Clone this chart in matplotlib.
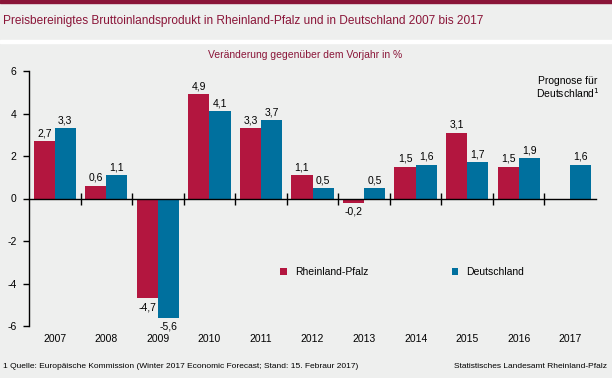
import matplotlib.pyplot as plt
import numpy as np
from matplotlib.patches import Rectangle

plt.rcParams['font.family'] = ['Liberation Sans', 'DejaVu Sans']

# Data
years = ['2007', '2008', '2009', '2010', '2011', '2012', '2013', '2014', '2015', '2016', '2017']
rlp = [2.7, 0.6, -4.7, 4.9, 3.3, 1.1, -0.2, 1.5, 3.1, 1.5, np.nan]
de = [3.3, 1.1, -5.6, 4.1, 3.7, 0.5, 0.5, 1.6, 1.7, 1.9, 1.6]
y_ticks = [-6, -4, -2, 0, 2, 4, 6]

red = '#b3163f'
blue = '#00709e'
maroon = '#8a1538'
bg = '#eeefee'

fig = plt.figure(figsize=(6.12, 3.78), dpi=100)
fig.patch.set_facecolor(bg)

# top line and white separator
fig.add_artist(Rectangle((0, 1 - 3 / 378), 1, 3 / 378, transform=fig.transFigure, color=maroon, zorder=0))
fig.add_artist(Rectangle((0, 1 - 43 / 378), 1, 3 / 378, transform=fig.transFigure, color='white', zorder=0))

fig.text(3 / 612, 1 - 21 / 378, 'Preisbereinigtes Bruttoinlandsprodukt in Rheinland-Pfalz und in Deutschland 2007 bis 2017',
         color=maroon, fontsize=8.6, va='center', ha='left')
fig.text(305 / 612, 1 - 55 / 378, 'Veränderung gegenüber dem Vorjahr in %',
         color=maroon, fontsize=7.5, va='center', ha='center')

ax = fig.add_axes([29 / 612, 1 - 326 / 378, 567 / 612, 255 / 378])
ax.set_facecolor(bg)

x = np.arange(len(years))
w = 0.41
b1 = ax.bar(x - w / 2, rlp, w, color=red, label='Rheinland-Pfalz', zorder=2)
b2 = ax.bar(x + w / 2, de, w, color=blue, label='Deutschland', zorder=2)

def fmt(v):
    return f'{v:.1f}'.replace('.', ',')

for bars, vals in ((b1, rlp), (b2, de)):
    for bar, v in zip(bars, vals):
        if np.isnan(v):
            continue
        cx = bar.get_x() + bar.get_width() / 2
        if v >= 0:
            ax.annotate(fmt(v), (cx, v), xytext=(0, 2), textcoords='offset points',
                        ha='center', va='bottom', fontsize=7.5)
        else:
            ax.annotate(fmt(v), (cx, v), xytext=(0, -3), textcoords='offset points',
                        ha='center', va='top', fontsize=7.5)

ax.set_xlim(-0.5, len(years) - 0.5)
ax.set_ylim(-6, 6)
ax.set_yticks(y_ticks)
ax.set_yticklabels([str(t) for t in y_ticks], fontsize=7.5)
ax.tick_params(axis='y', direction='out', length=4, width=1, pad=5)

ax.spines['bottom'].set_position(('data', 0))
ax.spines['top'].set_visible(False)
ax.spines['right'].set_visible(False)
ax.spines['left'].set_linewidth(1)
ax.spines['bottom'].set_linewidth(1)
ax.spines['bottom'].set_zorder(3)
ax.set_xticks(x[:-1] + 0.5)
ax.set_xticklabels([])
ax.tick_params(axis='x', direction='inout', length=8, width=1)

for xi, yr in zip(x, years):
    ax.text(xi, -0.03, yr, transform=ax.get_xaxis_transform(), ha='center', va='top', fontsize=7.5)

ax.text(x[-1] - 0.05, 5.2, 'Prognose für\nDeutschland$^{1}$', ha='center', va='center',
        fontsize=7.5, multialignment='center', linespacing=1.1)

# legend
ax.legend(loc='upper left', bbox_to_anchor=(242 / 567, (326 - 258) / 255), ncol=2, frameon=False,
          fontsize=7.5, handlelength=0.6, handleheight=0.6, columnspacing=8, handletextpad=0.8)

fig.text(3 / 612, 1 - 366 / 378,
         '1 Quelle: Europäische Kommission (Winter 2017 Economic Forecast; Stand: 15. Febraur 2017)',
         fontsize=6, va='center', ha='left')
fig.text(607 / 612, 1 - 367 / 378, 'Statistisches Landesamt Rheinland-Pfalz',
         fontsize=6, va='center', ha='right')

plt.savefig('out.png', dpi=100, facecolor=bg)
